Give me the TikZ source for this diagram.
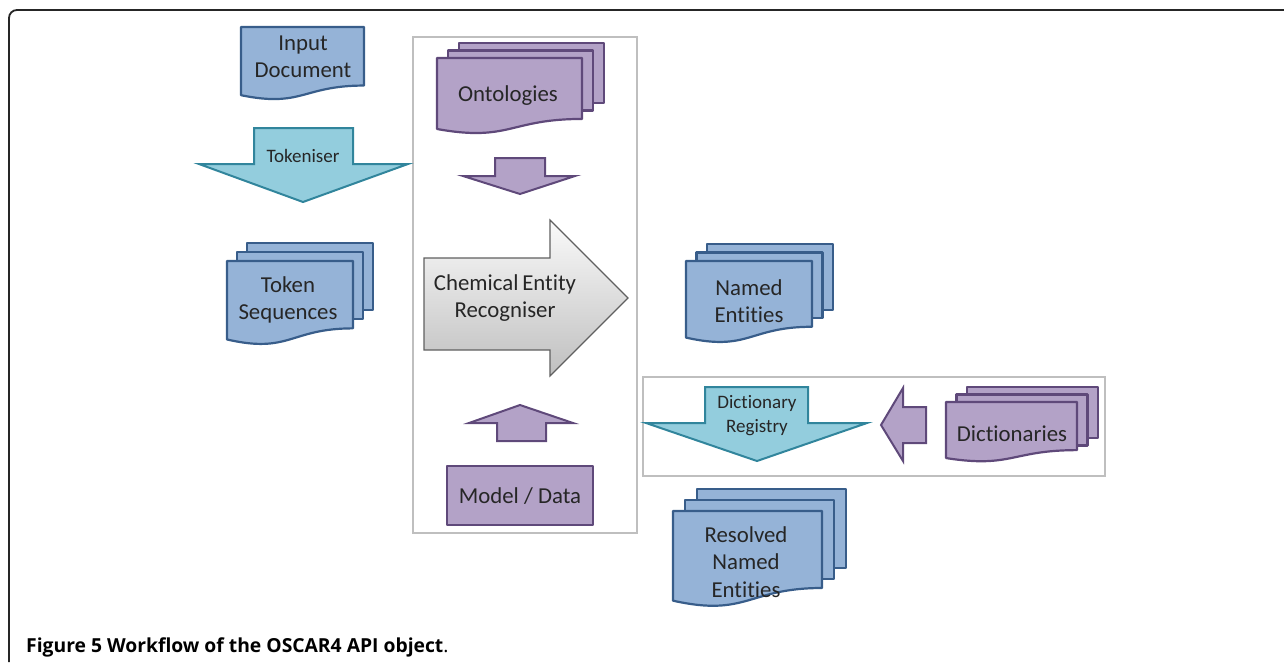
\documentclass[tikz,border=0pt]{standalone}
\usepackage{fontspec}
\setmainfont{Carlito}[Ligatures=NoCommon]
\newfontfamily\capfont{Open Sans}
\definecolor{docblue}{HTML}{95B3D7}
\definecolor{docblueline}{HTML}{385D8A}
\definecolor{docpurple}{HTML}{B3A2C7}
\definecolor{docpurpleline}{HTML}{5F497A}
\definecolor{arrcyan}{HTML}{93CDDD}
\definecolor{arrcyanline}{HTML}{31859C}
\definecolor{boxgray}{HTML}{BFBFBF}
\newcommand{\docshape}[5]{%
 \pgfmathsetmacro\xa{#1}\pgfmathsetmacro\ya{#2}\pgfmathsetmacro\xb{#1+#3}%
 \pgfmathsetmacro\yr{#2+0.802*#4}\pgfmathsetmacro\yl{#2+0.934*#4}%
 \pgfmathsetmacro\xm{#1+0.5*#3}\pgfmathsetmacro\yc{#2+1.107*#4}%
 \draw[#5] (\xa,\ya) -- (\xb,\ya) -- (\xb,\yr) .. controls (\xm,\yr) and (\xm,\yc) .. (\xa,\yl) -- cycle;}
% x y w h dx dy backheight-factor style
\newcommand{\multidoc}[8]{%
 \pgfmathsetmacro\bxa{#1+2*#5}\pgfmathsetmacro\bya{#2+2*#6}%
 \pgfmathsetmacro\bxb{#1+2*#5+#3}\pgfmathsetmacro\byb{#2+2*#6+#7*#4}%
 \draw[#8] (\bxa,\bya) rectangle (\bxb,\byb);
 \pgfmathsetmacro\mxa{#1+#5}\pgfmathsetmacro\mya{#2+#6}%
 \pgfmathsetmacro\mxb{#1+#5+#3}\pgfmathsetmacro\myb{#2+#6+#7*#4}%
 \draw[#8] (\mxa,\mya) rectangle (\mxb,\myb);
 \docshape{#1}{#2}{#3}{#4}{#8}}
\tikzset{
 bluedoc/.style={fill=docblue,draw=docblueline,line width=2.2pt,line join=round},
 purpledoc/.style={fill=docpurple,draw=docpurpleline,line width=2.2pt,line join=round},
 cyanarrow/.style={fill=arrcyan,draw=arrcyanline,line width=2pt,line join=miter},
 purplearrow/.style={fill=docpurple,draw=docpurpleline,line width=2pt,line join=miter},
 grayarrow/.style={top color=gray!4,bottom color=gray!50,draw=gray!75!black,line width=1.2pt},
 container/.style={draw=boxgray,line width=2pt},
 lbl/.style={font=\fontsize{22.8}{27.5}\selectfont,text=black!85,align=center,inner sep=0pt},
 smalllbl/.style={font=\fontsize{19}{24}\selectfont,text=black!85,align=center,inner sep=0pt},
}
\begin{document}
\begin{tikzpicture}[x=1pt,y=-1pt]
\useasboundingbox (0,0) rectangle (1284,662);
% outer frame
\draw[line width=1.8pt,black!85] (9,662) -- (9,18) arc[start angle=180,end angle=270,radius=8] -- (1284,10);
% containers
\draw[container] (413,37) rectangle (637,533);
\draw[container] (643,377) rectangle (1105,476);
% Input document
\docshape{241}{27}{123}{73}{bluedoc}
\node[lbl] (input) at (303,57) {Input\\Document};
% Tokeniser arrow
\draw[cyanarrow] (254,128) -- (353,128) -- (353,164) -- (408,164) -- (303,202) -- (199,164) -- (254,164) -- cycle;
\node[smalllbl] (tok) at (303,156) {Tokeniser};
% Token sequences
\multidoc{227}{261}{126}{84}{10}{-9}{0.8}{bluedoc}
\node[lbl] (tokseq) at (288,300) {Token\\Sequences};
% Ontologies
\multidoc{437}{58}{145}{76}{11}{-7.5}{0.79}{purpledoc}
\node[lbl] (onto) at (508,96) {Ontologies};
% ontology down arrow
\draw[purplearrow] (495,158) -- (545,158) -- (545,176) -- (575,176) -- (520,194) -- (463,176) -- (495,176) -- cycle;
% big gray arrow
\draw[grayarrow] (424,258) -- (550,258) -- (550,220) -- (628,298) -- (550,376) -- (550,350) -- (424,350) -- cycle;
\node[lbl] (cer) at (505,298) {Chemical\,Entity\\Recogniser};
% up arrow
\draw[purplearrow] (520,405) -- (573,423) -- (546,423) -- (546,441) -- (497,441) -- (497,423) -- (469,423) -- cycle;
% model/data
\draw[purpledoc] (447,466) rectangle (593,525);
\node[lbl] (model) at (520,496) {Model / Data};
% named entities
\multidoc{686}{261}{126}{82}{10.5}{-8.5}{0.8}{bluedoc}
\node[lbl] (ne) at (749,301) {Named\\Entities};
% dictionary registry arrow
\draw[cyanarrow] (705,387) -- (808,387) -- (808,423) -- (867,423) -- (757,461) -- (646,423) -- (705,423) -- cycle;
\node[smalllbl] (dr) at (757,416) {Dictionary\\Registry};
% left purple arrow
\draw[purplearrow] (881,425) -- (903,388) -- (903,407) -- (926,407) -- (926,443) -- (903,443) -- (903,461) -- cycle;
% dictionaries
\multidoc{946}{402}{131}{60}{10.5}{-7.5}{0.85}{purpledoc}
\node[lbl] (dict) at (1012,434) {Dictionaries};
% resolved named entities
\multidoc{673}{511}{149}{96}{12}{-11}{0.82}{bluedoc}
\node[lbl] (rne) at (746,562) {Resolved\\Named\\Entities};
% caption
\node[anchor=base west,inner sep=0pt,font=\capfont\fontsize{19.3}{22}\selectfont] (cap) at (26,652) {\textbf{Figure 5 Workflow of the OSCAR4 API object}.};
\end{tikzpicture}
\end{document}
